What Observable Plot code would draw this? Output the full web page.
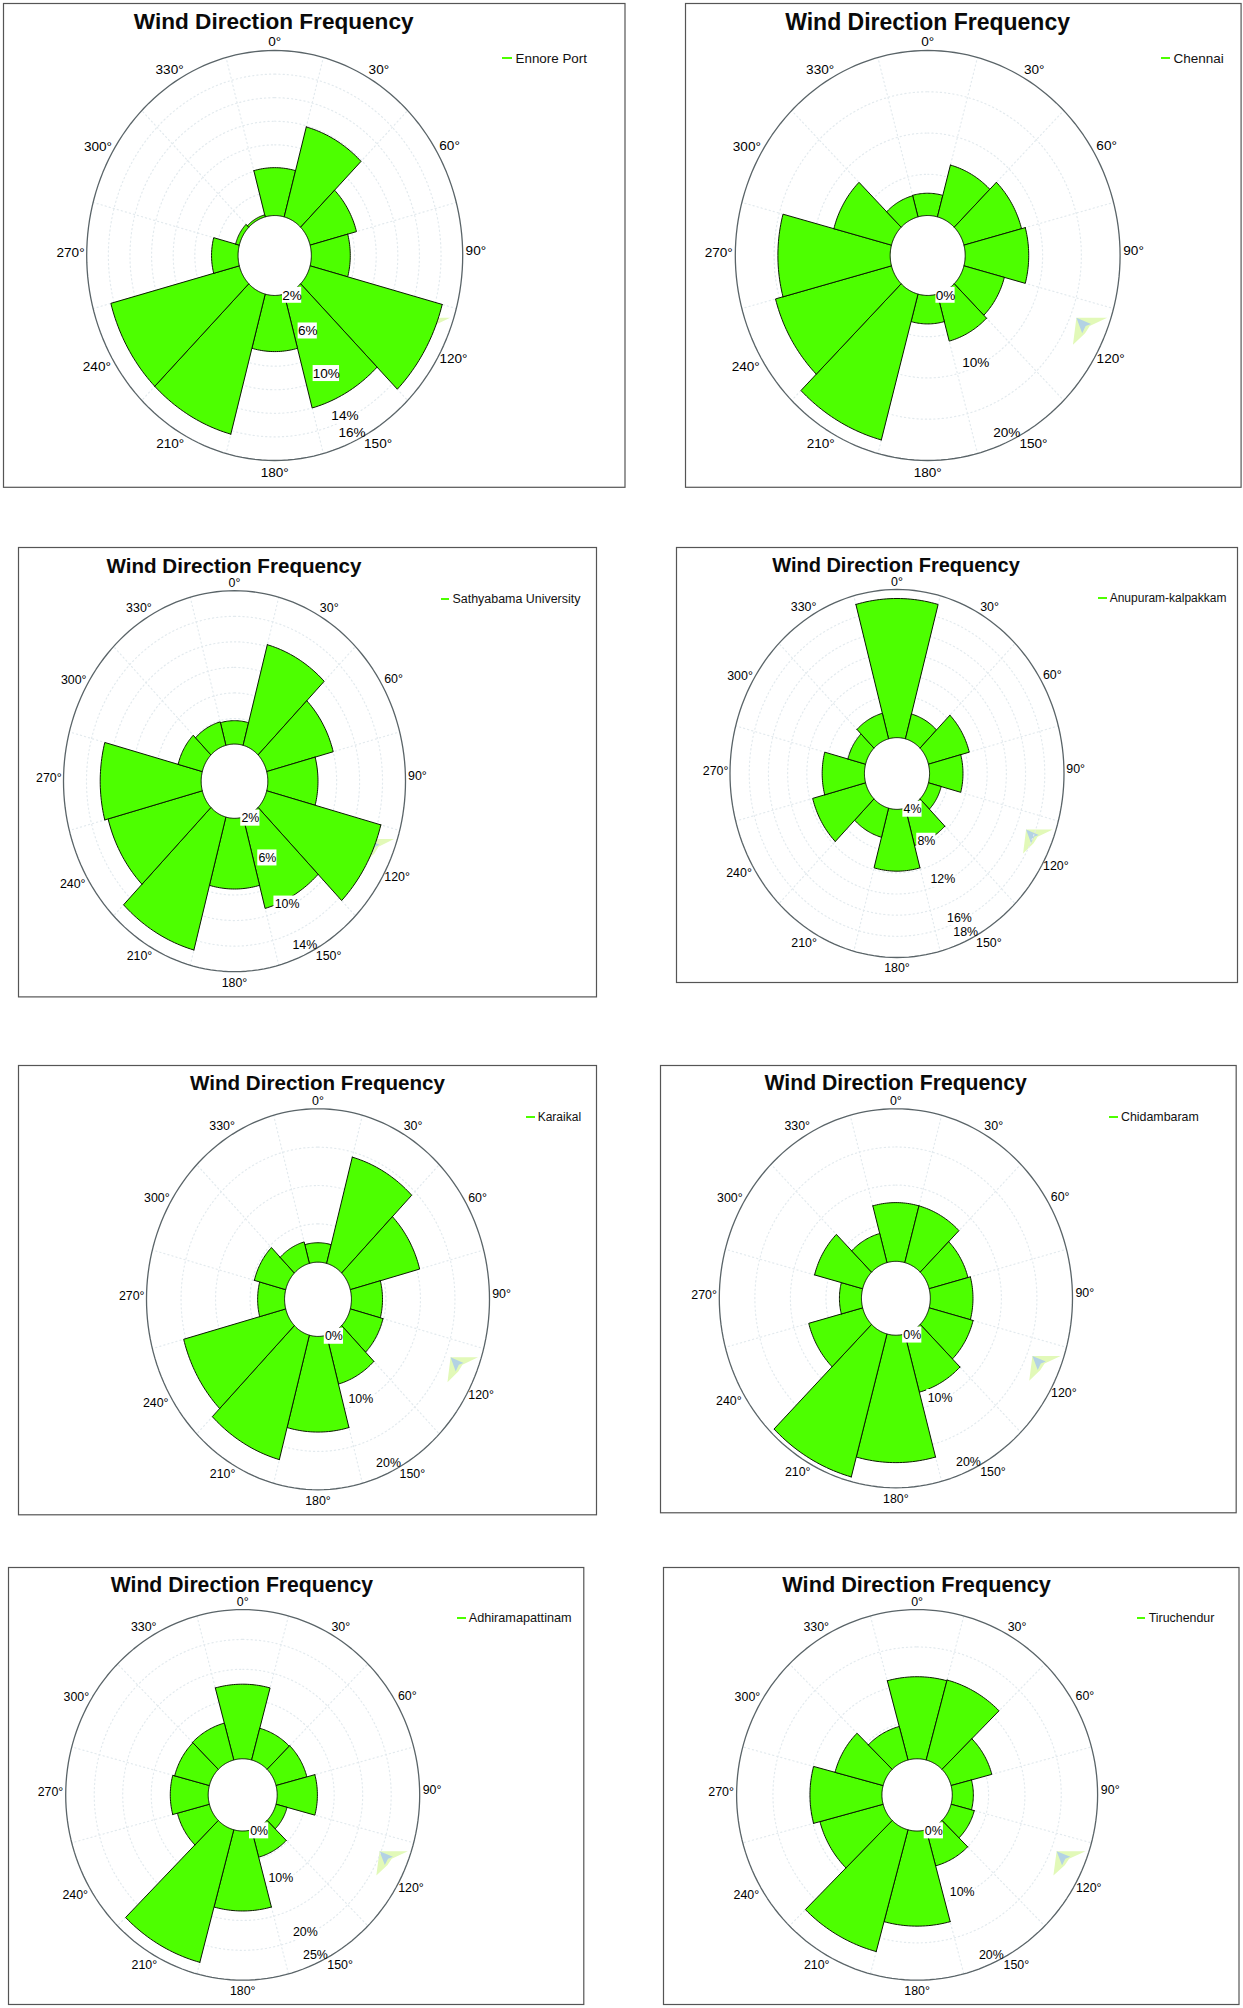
<!DOCTYPE html>
<html>
<head>
<meta charset="utf-8">
<script src="https://cdn.jsdelivr.net/npm/d3@7"></script>
<script src="https://cdn.jsdelivr.net/npm/@observablehq/plot@0.6"></script>
<style>
  html, body { margin: 0; padding: 0; background: #fff; }
  body { position: relative; width: 1243px; height: 2008px; overflow: hidden; font-family: "Liberation Sans", Arial, sans-serif; color: #000; }
  .panel { position: absolute; }
  .title { position: absolute; font-weight: bold; white-space: nowrap; transform: translate(-50%, -50%); color: #0a0a0a; }
  .legend { position: absolute; white-space: nowrap; transform: translateY(-50%); color: #111; }
  .dash { position: absolute; height: 2px; background: #4dff00; transform: translateY(-50%); }
</style>
</head>
<body>
<script>
// ---------- data (frequency in % per direction) ----------
const directions = [0, 30, 60, 90, 120, 150, 180, 210, 240, 270, 300, 330];
const chartTitle = "Wind Direction Frequency";

const ennoreFreq      = [6.06, 9.9, 6.44, 5.6, 14.65, 12.0, 6.76, 14.3, 14.3, 4.45, 2.35, 2.18];
const chennaiFreq     = [2.7, 6.5, 7.7, 8.2, 5.4, 5.9, 3.45, 18.3, 15.5, 14.5, 7.7, 2.65];
const sathyabamaFreq  = [3.83, 10.15, 8.0, 6.37, 12.3, 9.4, 7.53, 12.77, 10.5, 10.8, 4.18, 3.9];
const anupuramFreq    = [17.15, 6.43, 8.4, 7.48, 5.37, 7.65, 9.84, 6.85, 9.7, 8.4, 5.9, 6.5];
const karaikalFreq    = [2.53, 14.35, 10.4, 4.5, 4.9, 6.6, 12.47, 16.8, 15.3, 3.9, 4.7, 2.9];
const chidambaramFreq = [7.7, 7.7, 5.65, 6.0, 6.4, 7.9, 16.7, 19.4, 7.85, 3.1, 7.0, 3.95];
const adirampFreq     = [12.5, 5.5, 5.6, 7.05, 2.0, 4.75, 13.4, 23.0, 5.8, 6.65, 6.3, 6.4];
const tiruchendurFreq = [11.0, 11.1, 5.8, 2.9, 3.3, 5.0, 12.75, 16.9, 9.0, 9.9, 6.85, 4.65];

const ennoreLabels      = [2, 6, 10, 14, 16];
const chennaiLabels     = [0, 10, 20];
const sathyabamaLabels  = [2, 6, 10, 14];
const anupuramLabels    = [4, 8, 12, 16, 18];
const karaikalLabels    = [0, 10, 20];
const chidambaramLabels = [0, 10, 20];
const adirampLabels     = [0, 10, 20, 25];
const tiruchendurLabels = [0, 10, 20];

const ennoreRings      = [2, 4, 6, 8, 10, 12, 14, 16];
const sathyabamaRings  = [2, 4, 6, 8, 10, 12, 14];
const anupuramRings    = [4, 6, 8, 10, 12, 14, 16, 18];
const ringsToTwenty    = [0, 5, 10, 15, 20];
const ringsToTwentyFive = [0, 5, 10, 15, 20, 25];

// Where the direction labels sit around the circle, as a share of the radius.
const dirLabelSpots = [[0,1.042],[0.554,0.907],[0.93,0.534],[1.07,0.026],[0.951,-0.502],[0.55,-0.919],
                       [0,-1.057],[-0.556,-0.919],[-0.946,-0.542],[-1.086,0.015],[-0.94,0.529],[-0.559,0.907]];

// Faint publisher watermark behind the roses, relative to its anchor.
const watermarkPale = [[0,0],[0.16,0.0],[0.069,-0.04],[0.045,-0.075],[-0.018,-0.131],[0,0]];
const watermarkBlue = [[0,0],[0.076,-0.03],[0.048,-0.04],[0.03,-0.075],[0,0]];

// ---------- page layout of the panels (CSS pixels) ----------
const panels = [
  { name: "Ennore Port", freq: ennoreFreq, labels: ennoreLabels, rings: ennoreRings,
    box: [2.5, 2.7, 624, 486.5], c: [273.7, 254.7], R: [188, 205], title: [22.6, 21.7], leg: [502, 512, 515.5, 58, 13.4], fs: 13.6, mark: true },
  { name: "Chennai", freq: chennaiFreq, labels: chennaiLabels, rings: ringsToTwenty,
    box: [685.4, 2.7, 1241, 486.5], c: [927.6, 254.7], R: [192.4, 205], title: [23, 21.7], leg: [1161, 1170, 1173.5, 58, 13.5], fs: 13.6, mark: true },
  { name: "Sathyabama University", freq: sathyabamaFreq, labels: sathyabamaLabels, rings: sathyabamaRings,
    box: [18, 547.3, 596, 996.7], c: [234, 781], R: [171, 190.5], title: [20.6, 565.7], leg: [441, 449, 452.5, 599, 12.45], fs: 12.4, mark: true },
  { name: "Anupuram-kalpakkam", freq: anupuramFreq, labels: anupuramLabels, rings: anupuramRings,
    box: [675.5, 547.3, 1236.5, 982.3], c: [896, 773.3], R: [167, 184], title: [20, 565], leg: [1098, 1106.5, 1109.7, 597.7, 12], fs: 12.4, mark: true },
  { name: "Karaikal", freq: karaikalFreq, labels: karaikalLabels, rings: ringsToTwenty,
    box: [18, 1065, 596, 1514.3], c: [317.5, 1298.8], R: [171.5, 190.5], title: [20.6, 1083], leg: [525.5, 534.5, 537.7, 1117, 12], fs: 12.4, mark: true },
  { name: "Chidambaram", freq: chidambaramFreq, labels: chidambaramLabels, rings: ringsToTwenty,
    box: [660.3, 1065, 1236, 1512.3], c: [895.7, 1297.8], R: [176.6, 189.5], title: [21.2, 1083], leg: [1109, 1117.5, 1121, 1117, 12.4], fs: 12.4, mark: true },
  { name: "Adhiramapattinam", freq: adirampFreq, labels: adirampLabels, rings: ringsToTwentyFive,
    box: [7.7, 1567.3, 583, 2004.3], c: [241.9, 1794.7], R: [177, 185.3], title: [21.2, 1585], leg: [457, 466, 468.7, 1618, 12.7], fs: 12.4, mark: true },
  { name: "Tiruchendur", freq: tiruchendurFreq, labels: tiruchendurLabels, rings: ringsToTwenty,
    box: [663, 1567.3, 1238.5, 2004.3], c: [916.6, 1794.7], R: [180.5, 185.3], title: [21.7, 1585], leg: [1136.5, 1144.5, 1148.7, 1618, 12.4], fs: 12.4, mark: true }
];

// ---------- helpers ----------
const holeR = 0.195;
const rad = (deg) => deg * Math.PI / 180;
const polar = (r, deg) => ({ x: r * Math.sin(rad(deg)), y: r * Math.cos(rad(deg)) });
const arc = (r, a0, a1, n = 24) => d3.range(n + 1).map((i) => polar(r, a0 + (a1 - a0) * i / n));

function drawPanel(p) {
  const [left, top, right, bottom] = p.box;
  const W = right - left, H = bottom - top;
  const [cx, cy] = p.c;
  const [Rx, Ry] = p.R;
  const rScale = d3.scaleLinear([p.labels[0], p.labels[p.labels.length - 1]], [holeR, 1]);

  // wedges: one closed outline per direction
  const wedges = directions.flatMap((d, i) => {
    const r = rScale(p.freq[i]);
    return [...arc(r, d - 15, d + 15), ...arc(holeR, d + 15, d - 15), polar(r, d - 15)]
      .map((pt) => ({ ...pt, d }));
  });
  const rings = p.rings.slice(0, -1).flatMap((t) =>
    arc(rScale(t), 0, 360, 120).map((pt) => ({ ...pt, t })));
  const spokes = directions.flatMap((d) =>
    [polar(holeR, d + 15), polar(1, d + 15)].map((pt) => ({ ...pt, d })));

  const labelAngle = 154.5;
  const labelRows = p.labels.map((t) => {
    const r = Math.min(0.955, Math.max(0.215, rScale(t) - 0.017));
    const pt = polar(r, labelAngle);
    const hw = (String(t).length * 7.2 + 12) / 2 / Rx, hh = 8 / Ry;
    return { ...pt, text: t + "%", x1: pt.x - hw, x2: pt.x + hw, y1: pt.y - hh, y2: pt.y + hh };
  });
  const dirRows = directions.map((d, i) => ({ x: dirLabelSpots[i][0], y: dirLabelSpots[i][1], text: d + "°" }));
  const anchor = { x: 0.773, y: -0.304 };
  const shape = (pts) => pts.map(([a, b]) => ({ x: anchor.x + a, y: anchor.y + b }));

  const chart = Plot.plot({
    width: W, height: H, margin: 0,
    style: { fontFamily: "'Liberation Sans', Arial, sans-serif", background: "transparent", overflow: "visible" },
    x: { domain: [-1, 1], range: [cx - Rx - left, cx + Rx - left], axis: null },
    y: { domain: [-1, 1], range: [cy + Ry - top, cy - Ry - top], axis: null },
    marks: [
      Plot.frame({ stroke: "#555", strokeWidth: 1.2, inset: 0 }),
      p.mark ? Plot.line(shape(watermarkPale), { x: "x", y: "y", fill: "#e2f9b8", stroke: "none" }) : null,
      p.mark ? Plot.line(shape(watermarkBlue), { x: "x", y: "y", fill: "#b3d2e4", stroke: "none" }) : null,
      Plot.line(rings, { x: "x", y: "y", z: "t", stroke: "#e3eaee", strokeWidth: 1.2, strokeDasharray: "1.2,3" }),
      Plot.line(spokes, { x: "x", y: "y", z: "d", stroke: "#e3eaee", strokeWidth: 1.2, strokeDasharray: "1.2,3" }),
      Plot.line(wedges, { x: "x", y: "y", z: "d", fill: "#4dff00", stroke: "#0b1a00", strokeWidth: 1, strokeLinejoin: "miter" }),
      Plot.rect(labelRows, { x1: "x1", x2: "x2", y1: "y1", y2: "y2", fill: "#fff" }),
      Plot.line(arc(1, 0, 360, 180), { x: "x", y: "y", stroke: "#5a6468", strokeWidth: 1.3 }),
      Plot.text(labelRows, { x: "x", y: "y", text: "text", fontSize: p.fs, fill: "#000" }),
      Plot.text(dirRows, { x: "x", y: "y", text: "text", fontSize: p.fs, fill: "#000" })
    ]
  });

  const box = document.createElement("div");
  box.className = "panel";
  box.style.cssText = `left:${left}px;top:${top}px;width:${W}px;height:${H}px;`;
  box.appendChild(chart);
  document.body.appendChild(box);

  const title = document.createElement("div");
  title.className = "title";
  title.textContent = chartTitle;
  title.style.cssText = `left:${cx}px;top:${p.title[1]}px;font-size:${p.title[0]}px;`;
  document.body.appendChild(title);

  const [d0, d1, tx, ly, lfs] = p.leg;
  const dash = document.createElement("div");
  dash.className = "dash";
  dash.style.cssText = `left:${d0}px;top:${ly}px;width:${d1 - d0}px;`;
  document.body.appendChild(dash);
  const legend = document.createElement("div");
  legend.className = "legend";
  legend.textContent = p.name;
  legend.style.cssText = `left:${tx}px;top:${ly}px;font-size:${lfs}px;`;
  document.body.appendChild(legend);
}

panels.forEach(drawPanel);
</script>
</body>
</html>
